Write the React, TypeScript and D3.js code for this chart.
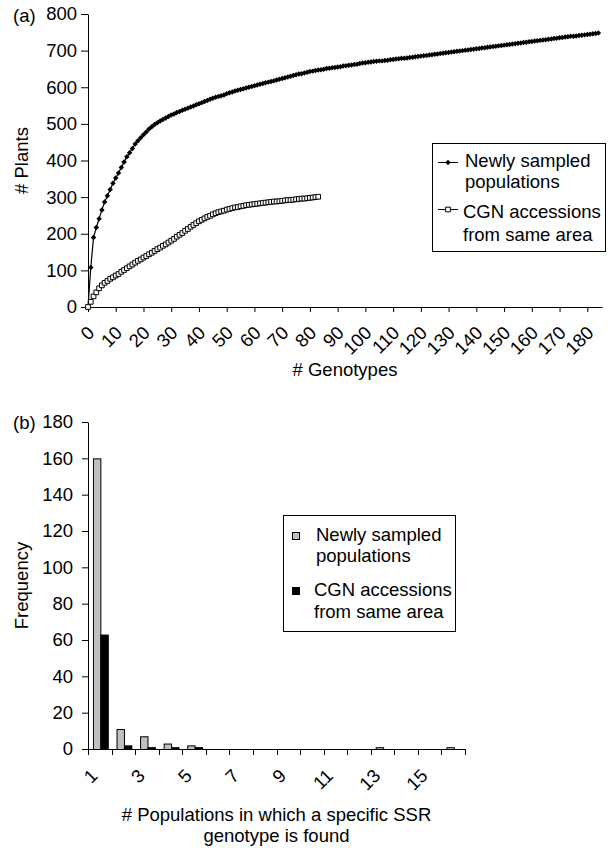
import React, { useRef, useEffect } from 'react';
import * as d3 from 'd3';

// (a) cumulative # plants against # genotypes (index = genotype count)
const newlySampled = [
  0, 108, 190, 217, 241, 265, 287, 304, 321, 338,
  352, 366, 381, 396, 410, 421, 433, 445, 454, 462,
  470, 478, 486, 492, 498, 503, 508, 512, 516, 520,
  524, 527, 531, 534, 537, 540, 543, 546, 549, 552,
  555, 558, 561, 564, 567, 570, 573, 575, 577, 579,
  582, 585, 587, 590, 592, 594, 596, 598, 600, 602,
  604, 606, 608, 610, 612, 614, 616, 618, 620, 622,
  624, 626, 628, 630, 632, 634, 636, 637, 639, 641,
  643, 644, 646, 647, 648, 649, 651, 652, 653, 654,
  655, 656, 658, 659, 660, 661, 662, 663, 665, 666,
  667, 668, 669, 670, 671, 672, 672, 673, 674, 675,
  676, 677, 678, 679, 679, 680, 681, 682, 683, 684,
  685, 686, 687, 688, 689, 690, 691, 692, 693, 694,
  695, 696, 697, 698, 699, 700, 701, 702, 703, 704,
  705, 706, 707, 708, 709, 710, 711, 712, 713, 714,
  715, 716, 717, 718, 719, 720, 721, 722, 723, 724,
  725, 726, 727, 728, 729, 730, 731, 732, 733, 734,
  735, 736, 737, 738, 739, 739, 740, 741, 742, 743,
  744, 745, 746, 747, 748
];

const cgnAccessions = [
  0, 14, 29, 40, 51, 59, 66, 71, 77, 81,
  86, 90, 96, 101, 106, 111, 116, 121, 126, 130,
  135, 139, 144, 148, 153, 158, 162, 167, 171, 176,
  181, 186, 192, 197, 202, 208, 213, 219, 224, 229,
  234, 238, 242, 246, 249, 253, 256, 259, 261, 263,
  266, 268, 270, 272, 273, 275, 276, 278, 279, 280,
  281, 282, 283, 284, 285, 286, 287, 288, 288, 289,
  290, 291, 292, 292, 293, 294, 295, 296, 296, 297,
  298, 299, 300, 301
];

const yTicksA = [0, 100, 200, 300, 400, 500, 600, 700, 800];
const xTicksA = [0, 10, 20, 30, 40, 50, 60, 70, 80, 90, 100, 110, 120, 130, 140, 150, 160, 170, 180];

// (b) frequency of genotypes by number of populations
const populations = [1, 2, 3, 4, 5, 6, 7, 8, 9, 10, 11, 12, 13, 14, 15, 16];
const freqNewly = [160, 11, 7, 3, 2, 0, 0, 0, 0, 0, 0, 0, 1, 0, 0, 1];
const freqCgn = [63, 2, 1, 1, 1, 0, 0, 0, 0, 0, 0, 0, 0, 0, 0, 0];
const yTicksB = [0, 20, 40, 60, 80, 100, 120, 140, 160, 180];
const xLabelsB = [1, 3, 5, 7, 9, 11, 13, 15];

const FONT = "'Liberation Sans', Arial, Helvetica, sans-serif";
const FS = 18.5;
const GRAY = '#c0c0c0';

const App = () => {
  const svgRef = useRef<SVGSVGElement>(null);

  useEffect(() => {
    const svg = d3.select(svgRef.current);
    svg.selectAll('*').remove();
    svg.attr('font-family', FONT).attr('font-size', FS);

    // ---------- panel (a) ----------
    const xA = d3.scaleLinear().domain([0, 185.3]).range([88, 602]);
    const yA = d3.scaleLinear().domain([0, 800]).range([307, 14]);

    const gA = svg.append('g');

    gA.append('g')
      .attr('transform', 'translate(88,0)')
      .call(d3.axisLeft(yA).tickValues(yTicksA).tickSize(7).tickSizeOuter(0).tickPadding(4))
      .call(g => g.selectAll('text').attr('font-size', FS).attr('font-family', FONT).attr('fill', '#000'))
      .call(g => g.selectAll('line,path').attr('stroke', '#000'));

    const xAxisA = gA.append('g')
      .attr('transform', 'translate(0,307)')
      .call(d3.axisBottom(xA).tickValues(xTicksA).tickSize(5).tickSizeOuter(0).tickFormat(() => ''))
      .call(g => g.selectAll('line,path').attr('stroke', '#000'));

    xAxisA.selectAll('text.lbl')
      .data(xTicksA)
      .join('text')
      .attr('class', 'lbl')
      .attr('fill', '#000')
      .attr('font-size', FS)
      .attr('font-family', FONT)
      .attr('text-anchor', 'end')
      .attr('transform', d => `translate(${xA(d) + 7.5},${27}) rotate(-45)`)
      .text(d => d);

    const lineA = d3.line<number>().x((d, i) => xA(i)).y(d => yA(d));

    gA.append('path')
      .datum(newlySampled)
      .attr('fill', 'none')
      .attr('stroke', '#000')
      .attr('stroke-width', 1.2)
      .attr('d', lineA);

    gA.append('g')
      .selectAll('path')
      .data(newlySampled)
      .join('path')
      .attr('d', d3.symbol(d3.symbolSquare, 15)())
      .attr('transform', (d, i) => `translate(${xA(i)},${yA(d)}) rotate(45)`)
      .attr('fill', '#000');

    gA.append('path')
      .datum(cgnAccessions)
      .attr('fill', 'none')
      .attr('stroke', '#000')
      .attr('stroke-width', 1)
      .attr('d', lineA);

    gA.append('g')
      .selectAll('path')
      .data(cgnAccessions)
      .join('path')
      .attr('d', d3.symbol(d3.symbolSquare, 22)())
      .attr('transform', (d, i) => `translate(${xA(i)},${yA(d)})`)
      .attr('fill', '#fff')
      .attr('stroke', '#000')
      .attr('stroke-width', 1);

    gA.append('text').attr('x', 13).attr('y', 22).text('(a)');

    gA.append('text')
      .attr('transform', `translate(28,${(yA(0) + yA(800)) / 2}) rotate(-90)`)
      .attr('text-anchor', 'middle')
      .text('# Plants');

    gA.append('text')
      .attr('x', (xA.range()[0] + xA.range()[1]) / 2)
      .attr('y', 376)
      .attr('text-anchor', 'middle')
      .text('# Genotypes');

    // legend (a)
    const legA = gA.append('g').attr('transform', 'translate(432,143)');
    legA.append('rect')
      .attr('x', 0.5).attr('y', 0.5).attr('width', 173).attr('height', 108)
      .attr('fill', '#fff').attr('stroke', '#000');
    legA.append('line').attr('x1', 6).attr('x2', 26).attr('y1', 19.5).attr('y2', 19.5).attr('stroke', '#000');
    legA.append('path')
      .attr('d', d3.symbol(d3.symbolSquare, 15)())
      .attr('transform', 'translate(16,19.5) rotate(45)');
    legA.append('line').attr('x1', 6).attr('x2', 26).attr('y1', 66.5).attr('y2', 66.5).attr('stroke', '#000');
    legA.append('path')
      .attr('d', d3.symbol(d3.symbolSquare, 22)())
      .attr('transform', 'translate(16,66.5)')
      .attr('fill', '#fff').attr('stroke', '#000').attr('stroke-width', 1);
    legA.append('text').attr('x', 33).attr('y', 24).text('Newly sampled');
    legA.append('text').attr('x', 33).attr('y', 45).text('populations');
    legA.append('text').attr('x', 31).attr('y', 75).text('CGN accessions');
    legA.append('text').attr('x', 31).attr('y', 98).text('from same area');

    // ---------- panel (b) ----------
    const xB = d3.scaleBand<number>().domain(populations).range([88, 465]).padding(0);
    const bw = xB.bandwidth();
    const xSub = d3.scaleBand<string>().domain(['newly', 'cgn']).range([bw * 0.21, bw * 0.84]);
    const yB = d3.scaleLinear().domain([0, 180]).range([749, 422]);

    const gB = svg.append('g');

    gB.append('g')
      .attr('transform', 'translate(88,0)')
      .call(d3.axisLeft(yB).tickValues(yTicksB).tickSize(6).tickSizeOuter(0).tickPadding(9))
      .call(g => g.selectAll('text').attr('font-size', FS).attr('font-family', FONT).attr('fill', '#000'))
      .call(g => g.selectAll('line,path').attr('stroke', '#000'));

    const barData = populations.flatMap((c, i) => [
      { c, key: 'newly', v: freqNewly[i] },
      { c, key: 'cgn', v: freqCgn[i] },
    ]).filter(d => d.v > 0);

    gB.append('g')
      .selectAll('rect')
      .data(barData)
      .join('rect')
      .attr('x', d => (xB(d.c) as number) + (xSub(d.key) as number) + 0.5)
      .attr('y', d => yB(d.v) + 0.5)
      .attr('width', xSub.bandwidth())
      .attr('height', d => yB(0) - yB(d.v))
      .attr('fill', d => (d.key === 'newly' ? GRAY : '#000'))
      .attr('stroke', '#000')
      .attr('stroke-width', 1);

    const xAxisB = gB.append('g').attr('transform', 'translate(0,749)');
    xAxisB.append('line')
      .attr('x1', 88).attr('x2', 466).attr('y1', 0.5).attr('y2', 0.5).attr('stroke', '#000');
    const bounds = [...populations.map(c => xB(c) as number), xB.range()[1]];
    xAxisB.selectAll('line.tick')
      .data(bounds)
      .join('line')
      .attr('class', 'tick')
      .attr('x1', d => Math.round(d) + 0.5).attr('x2', d => Math.round(d) + 0.5)
      .attr('y1', 0).attr('y2', 6)
      .attr('stroke', '#000');
    xAxisB.selectAll('text.lbl')
      .data(xLabelsB)
      .join('text')
      .attr('class', 'lbl')
      .attr('text-anchor', 'end')
      .attr('transform', d => `translate(${(xB(d) as number) + bw / 2 - 1},${28}) rotate(-45)`)
      .text(d => d);

    gB.append('text').attr('x', 13).attr('y', 429).text('(b)');

    gB.append('text')
      .attr('transform', `translate(28,${(yB(0) + yB(180)) / 2}) rotate(-90)`)
      .attr('text-anchor', 'middle')
      .text('Frequency');

    const cxB = (xB.range()[0] + xB.range()[1]) / 2;
    gB.append('text').attr('x', cxB).attr('y', 821).attr('text-anchor', 'middle')
      .text('# Populations in which a specific SSR');
    gB.append('text').attr('x', cxB).attr('y', 842).attr('text-anchor', 'middle')
      .text('genotype is found');

    // legend (b)
    const legB = gB.append('g').attr('transform', 'translate(283,515)');
    legB.append('rect')
      .attr('x', 0.5).attr('y', 0.5).attr('width', 172).attr('height', 116)
      .attr('fill', '#fff').attr('stroke', '#000');
    legB.append('rect')
      .attr('x', 9.5).attr('y', 17.5).attr('width', 7).attr('height', 7)
      .attr('fill', GRAY).attr('stroke', '#000');
    legB.append('rect')
      .attr('x', 9.5).attr('y', 72.5).attr('width', 7).attr('height', 7)
      .attr('fill', '#000').attr('stroke', '#000');
    legB.append('text').attr('x', 33).attr('y', 26).text('Newly sampled');
    legB.append('text').attr('x', 33).attr('y', 47).text('populations');
    legB.append('text').attr('x', 31).attr('y', 81).text('CGN accessions');
    legB.append('text').attr('x', 31).attr('y', 103).text('from same area');
  }, []);

  return (
    <svg
      ref={svgRef}
      width={610}
      height={848}
      style={{ position: 'absolute', left: 0, top: 0, background: '#fff' }}
    />
  );
};

export default App;
